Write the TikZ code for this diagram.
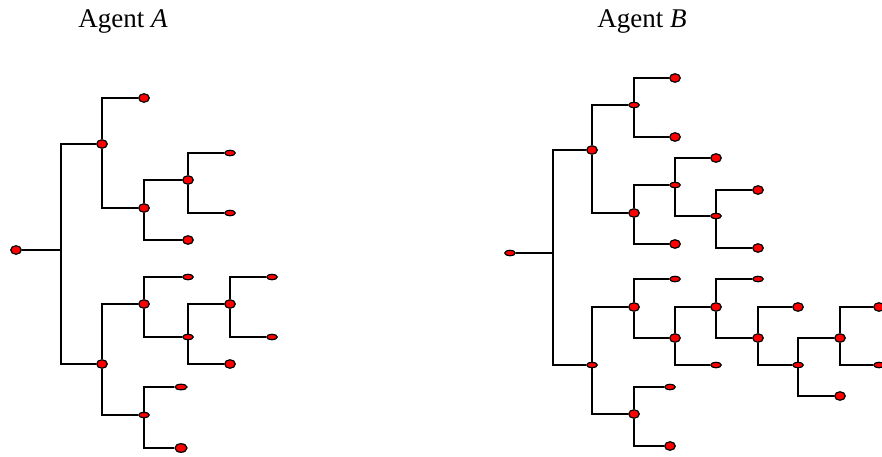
\documentclass[tikz,border=0pt]{standalone}
\usepackage{fontspec}
\setmainfont{Liberation Serif}
\usetikzlibrary{shapes.geometric}

\newcommand*\knotwidth{10.5pt}
\tikzset{knot/.style={
    draw,
    line width=1.2pt,
    ellipse,
    fill=red,
    inner sep=0pt,
    minimum width=\knotwidth,
    minimum height=#1
},
ball/.style={knot=8.5pt},
disc/.style={knot=5.5pt},
title/.style={anchor=base, font=\fontsize{27}{32}\selectfont},
link/.style={line width=1.8pt}
}

\begin{document}
\begin{tikzpicture}[x=1pt,y=-1pt]
    \useasboundingbox (0,0) rectangle (882,456);

    % Titles.
    \node[title] (titleA) at (123,27) {Agent \textit{A}};
    \node[title] (titleB) at (642,27) {Agent \textit{B}};

    % Agent A tree.
    \node[ball] (rA) at (16,250) {};
    \coordinate (jA) at (61,250);
    \node[ball] (a1) at (102,144) {};
    \node[ball] (a2) at (144,98) {};
    \node[ball] (a3) at (144,208) {};
    \node[ball] (a4) at (188,180) {};
    \node[disc] (a5) at (230,153) {};
    \node[disc] (a6) at (230,213) {};
    \node[ball] (a7) at (188,240) {};
    \node[ball] (a8) at (102,364) {};
    \node[ball] (a9) at (144,304) {};
    \node[disc] (a10) at (188,277) {};
    \node[disc] (a11) at (188,337) {};
    \node[ball] (a12) at (230,304) {};
    \node[disc] (a13) at (272,277) {};
    \node[disc] (a14) at (272,337) {};
    \node[ball] (a15) at (230,364) {};
    \node[disc] (a16) at (144,415) {};
    \node[disc, minimum width=12pt] (a17) at (181,387) {};
    \node[ball, minimum width=12pt] (a18) at (181,448) {};

    \draw[link] (rA) -- (jA);
    \draw[link] (jA) |- (a1);
    \draw[link] (jA) |- (a8);
    \foreach \from/\to in {a1/a2,a1/a3,a3/a4,a3/a7,a4/a5,a4/a6,a8/a9,a8/a16,
        a9/a10,a9/a11,a11/a12,a11/a15,a12/a13,a12/a14,a16/a17,a16/a18}
        \draw[link] (\from) |- (\to);

    % Agent B tree.
    \node[disc] (rB) at (510,253) {};
    \coordinate (jB) at (553,253);
    \node[ball] (b1) at (592,150) {};
    \node[disc] (b2) at (634,105) {};
    \node[ball] (b3) at (675,78) {};
    \node[ball] (b4) at (675,137) {};
    \node[ball] (b5) at (634,213) {};
    \node[disc] (b6) at (675,185) {};
    \node[ball] (b7) at (716,158) {};
    \node[disc] (b8) at (716,216) {};
    \node[ball] (b9) at (758,190) {};
    \node[ball] (b10) at (758,248) {};
    \node[ball] (b11) at (675,244) {};
    \node[disc] (b12) at (592,365) {};
    \node[ball] (b13) at (634,307) {};
    \node[disc] (b14) at (675,279) {};
    \node[ball] (b15) at (675,338) {};
    \node[ball] (b16) at (716,307) {};
    \node[disc] (b17) at (716,365) {};
    \node[disc] (b18) at (758,279) {};
    \node[ball] (b19) at (758,338) {};
    \node[ball] (b20) at (798,307) {};
    \node[disc] (b21) at (798,365) {};
    \node[ball] (b22) at (840,338) {};
    \node[ball] (b23) at (879,307) {};
    \node[disc] (b24) at (879,365) {};
    \node[ball] (b25) at (840,396) {};
    \node[ball] (b26) at (634,414) {};
    \node[disc] (b27) at (670,387) {};
    \node[ball] (b28) at (670,446) {};

    \draw[link] (rB) -- (jB);
    \draw[link] (jB) |- (b1);
    \draw[link] (jB) |- (b12);
    \foreach \from/\to in {b1/b2,b1/b5,b2/b3,b2/b4,b5/b6,b5/b11,b6/b7,b6/b8,
        b8/b9,b8/b10,b12/b13,b12/b26,b13/b14,b13/b15,b15/b16,b15/b17,
        b16/b18,b16/b19,b19/b20,b19/b21,b21/b22,b21/b25,b22/b23,b22/b24,
        b26/b27,b26/b28}
        \draw[link] (\from) |- (\to);

\end{tikzpicture}
\end{document}
